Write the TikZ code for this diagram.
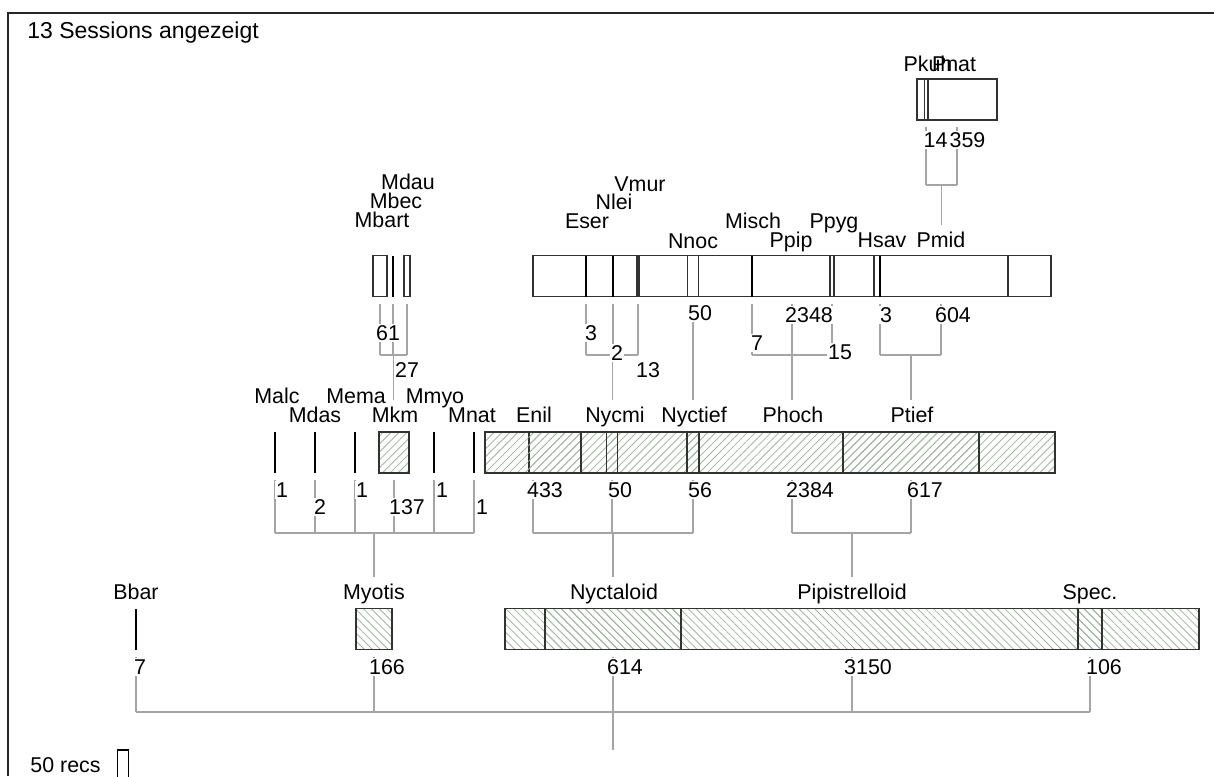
\documentclass[tikz,border=0pt]{standalone}
\usepackage{fontspec}
\setmainfont{Liberation Sans}
\usetikzlibrary{positioning, patterns.meta, backgrounds}
\definecolor{hatchgreen}{RGB}{150,185,150}
\definecolor{linkgray}{RGB}{165,165,165}
\definecolor{boxgray}{RGB}{50,50,50}

\begin{document}
\begin{tikzpicture}[x=0.5pt, y=-0.5pt,
  every node/.style={font=\fontsize{10.7}{12}\selectfont},
  recbar/.style={draw=boxgray, line width=0.95pt, minimum width=#1*0.11025pt, minimum height=20.5pt, inner sep=0pt, outer sep=0pt},
  tickbar/.style={fill=black, minimum width=1.4pt, minimum height=20.5pt, inner sep=0pt, outer sep=0pt},
  hatchdown/.style={pattern={Lines[angle=-45, distance=2.8pt, line width=0.4pt]}, pattern color=hatchgreen},
  hatchup/.style={pattern={Lines[angle=45, distance=2.8pt, line width=0.4pt]}, pattern color=hatchgreen},
  taxon/.style={inner sep=3pt, text height=1.5ex, text depth=0.25ex},
  recs/.style={fill=white, inner sep=0.6pt, text height=1.5ex, text depth=0pt},
  link/.style={draw=linkgray, line width=0.9pt}]
  \useasboundingbox (0,0) rectangle (1214,776);

  % frame and title
  \draw[line width=0.9pt, black!85] (8,776) -- (8,13) -- (1214,13);
  \node[anchor=west, inner sep=0pt, font=\fontsize{11.5}{13}\selectfont] (title) at (27,33) {13 Sessions angezeigt};

  % level 0
  \foreach \nm/\cx/\n in {Pipistrelloid/852/3150, Nyctaloid/613/614, Myotis/374/166, Spec/1090/106}
    \node[recbar=\n, hatchdown] (b-\nm) at (\cx,629) {};
  \node[tickbar] (b-Bbar) at (136,629) {};
  \foreach \nm/\cx/\txt in {Bbar/136/Bbar, Myotis/374/Myotis, Nyctaloid/614/Nyctaloid, Pipistrelloid/852/Pipistrelloid, Spec/1090/Spec.}
    \node[taxon] (n-\nm) at (\cx,593) {\txt};
  \foreach \nm/\cx/\txt in {Bbar/140/7, Myotis/387/166, Nyctaloid/625/614, Pipistrelloid/868/3150, Spec/1104/106}
    \node[recs] (c-\nm) at (\cx,667) {\txt};

  % level 1
  \foreach \nm/\cx/\n in {Phoch/792/2384, Enil/533/433, Ptief/911/617, Nyctief/693/56, Nycmi/612/50, Mkm/394/137}
    \node[recbar=\n, hatchup] (b-\nm) at (\cx,452.5) {};
  \foreach \nm/\cx in {Malc/275, Mdas/315, Mema/355, Mmyo/434, Mnat/474}
    \node[tickbar] (b-\nm) at (\cx,452.5) {};
  \foreach \nm/\cx/\cy in {Malc/277/397, Mdas/315/416, Mema/356/397, Mkm/395/416, Mmyo/435/397, Mnat/472/416,
                           Enil/534/416, Nycmi/615/416, Nyctief/694/416, Phoch/793/416, Ptief/912/416}
    \node[taxon] (n-\nm) at (\cx,\cy) {\nm};
  \foreach \nm/\cx/\cy/\txt in {Malc/282/490/1, Mdas/320/507/2, Mema/362/490/1, Mkm/407/507/137, Mmyo/442/490/1, Mnat/482/507/1,
                                Enil/545/490/433, Nycmi/620/490/50, Nyctief/700/490/56, Phoch/810/490/2384, Ptief/925/490/617}
    \node[recs] (c-\nm) at (\cx,\cy) {\txt};

  % level 2
  \foreach \nm/\cx/\n in {Ppip/792/2348, Pmid/941/604, Nnoc/693/50, Mbart/380/61, Mdau/407/27, Vmur/638/13, Ppyg/832/15}
    \node[recbar=\n] (b-\nm) at (\cx,276) {};
  \foreach \nm/\cx in {Mbec/393, Eser/586, Nlei/613, Misch/752, Hsav/880}
    \node[tickbar] (b-\nm) at (\cx,276) {};
  \foreach \nm/\cx/\cy in {Mdau/408/183, Mbec/396/202, Mbart/382/221, Vmur/640/185, Nlei/614/203, Eser/587/222,
                           Nnoc/693/242, Misch/753/222, Ppip/791/241, Ppyg/834/222, Hsav/882/241, Pmid/941/241}
    \node[taxon] (n-\nm) at (\cx,\cy) {\nm};
  \foreach \nm/\cx/\cy/\txt in {Mbart/388/333/61, Mdau/407/370/27, Eser/591/333/3, Nlei/617/353/2, Vmur/648/370/13,
                                Nnoc/700/313/50, Misch/757/343/7, Ppip/809/315/2348, Ppyg/840/352/15, Hsav/886/315/3, Pmid/953/315/604}
    \node[recs] (c-\nm) at (\cx,\cy) {\txt};

  % level 3
  \node[recbar=359] (b-Pnat) at (957,99.5) {};
  \node[recbar=14] (b-Pkuh) at (926,99.5) {};
  \node[taxon] (n-Pkuh) at (928,65) {Pkuh};
  \node[taxon] (n-Pnat) at (954,65) {Pnat};
  \node[recs] (c-Pkuh) at (935.5,140) {14};
  \node[recs] (c-Pnat) at (967.5,140) {359};

  % legend
  \node[anchor=west, inner sep=0pt] (legend) at (30,765) {50 recs};
  \node[recbar=50, draw=black, line width=0.6pt] (b-legend) at (123,770.5) {};

  % tree links
  \coordinate (j-root) at (613,712);
  \coordinate (rootend) at (613,750);
  \coordinate (j-Myotis) at (374,533);
  \coordinate (j-Nyctaloid) at (613,533);
  \coordinate (j-Pipistrelloid) at (852,533);
  \coordinate (j-Mkm) at (393.5,355);
  \coordinate (j-Nycmi) at (612.5,355);
  \coordinate (j-Nyctief) at (693,355);
  \coordinate (j-Phoch) at (792,355);
  \coordinate (j-Ptief) at (911,355);
  \coordinate (j-Pmid) at (941.5,185);
  \begin{scope}[on background layer]
    \foreach \grp/\kids in {root/{Bbar,Myotis,Nyctaloid,Pipistrelloid,Spec}, Myotis/{Malc,Mdas,Mema,Mkm,Mmyo,Mnat},
                            Nyctaloid/{Enil,Nycmi,Nyctief}, Pipistrelloid/{Phoch,Ptief}, Mkm/{Mbart,Mbec,Mdau},
                            Nycmi/{Eser,Nlei,Vmur}, Nyctief/{Nnoc}, Phoch/{Misch,Ppip,Ppyg}, Ptief/{Hsav,Pmid}, Pmid/{Pkuh,Pnat}}
      \foreach \k in \kids
        \draw[link] ([yshift=-3.5pt]b-\k.south) -- (b-\k.south |- j-\grp);
    \foreach \grp/\first/\last in {root/Bbar/Spec, Myotis/Malc/Mnat, Nyctaloid/Enil/Nyctief, Pipistrelloid/Phoch/Ptief,
                                   Mkm/Mbart/Mdau, Nycmi/Eser/Vmur, Phoch/Misch/Ppyg, Ptief/Hsav/Pmid, Pmid/Pkuh/Pnat}
      \draw[link] (b-\first.south |- j-\grp) -- (b-\last.south |- j-\grp);
    \foreach \grp in {Myotis, Nyctaloid, Pipistrelloid, Mkm, Nycmi, Nyctief, Phoch, Ptief, Pmid}
      \draw[link] (j-\grp) -- (j-\grp |- n-\grp.north);
    \draw[link] (j-root) -- (rootend);
  \end{scope}
\end{tikzpicture}
\end{document}
